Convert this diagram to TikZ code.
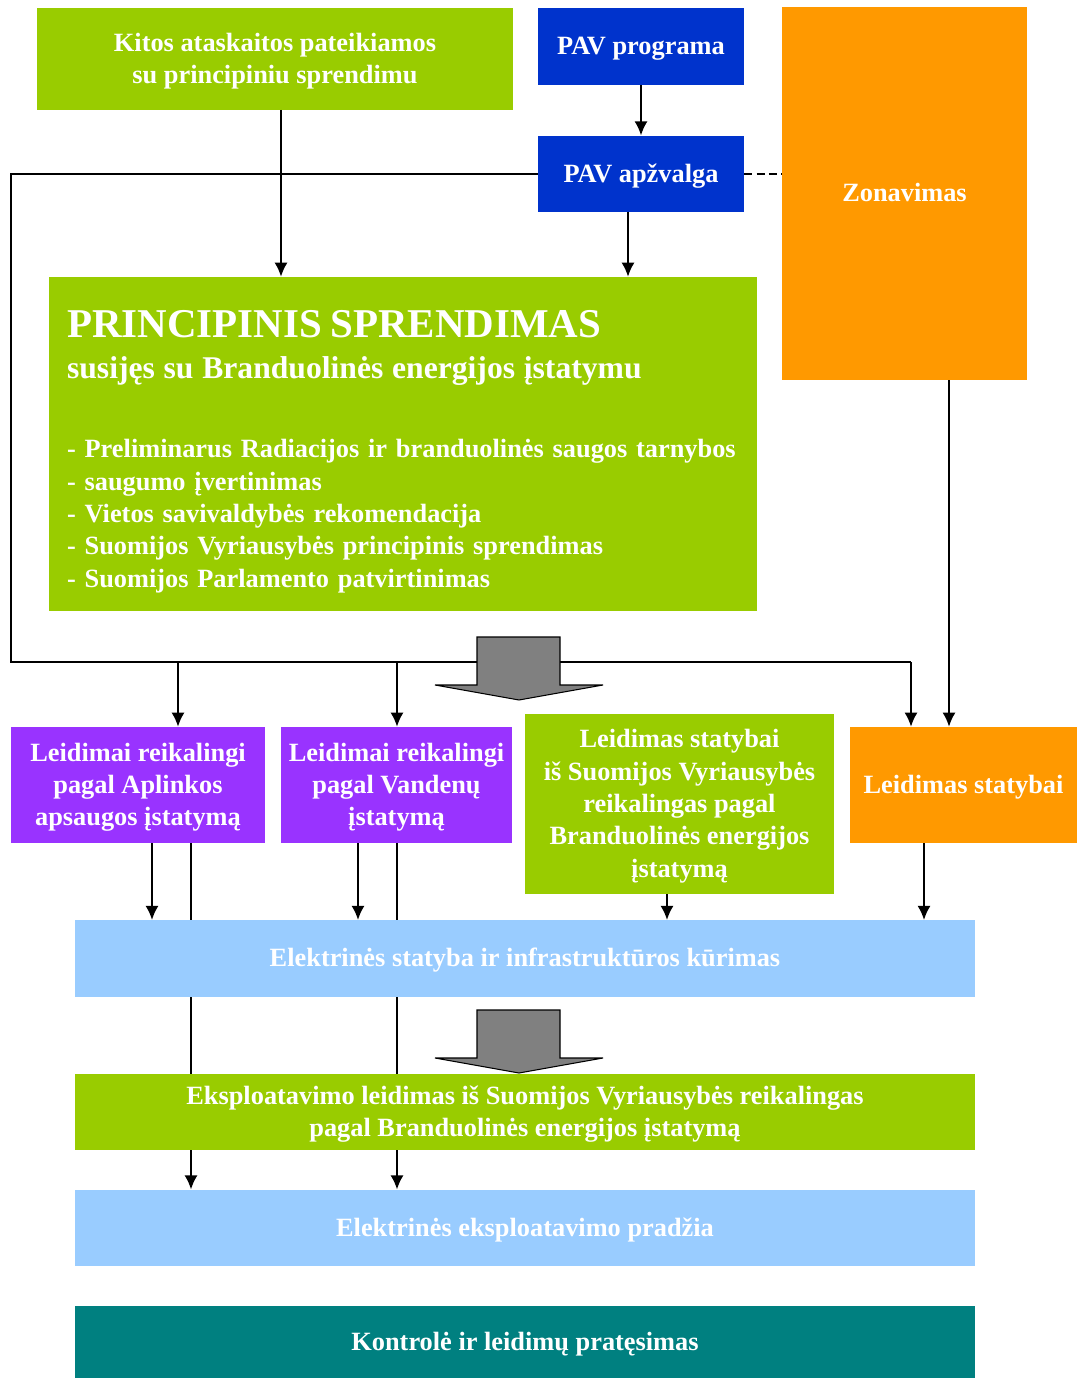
\documentclass[tikz,border=0pt]{standalone}
\usepackage{fontspec}
\setmainfont{Liberation Serif}
\usetikzlibrary{arrows.meta, backgrounds}
\definecolor{pgreen}{HTML}{99CC00}
\definecolor{pblue}{HTML}{0033CC}
\definecolor{porange}{HTML}{FF9900}
\definecolor{ppurple}{HTML}{9933FF}
\definecolor{psky}{HTML}{99CCFF}
\definecolor{pteal}{HTML}{008080}
\definecolor{pgray}{HTML}{808080}
\newcommand{\linetop}{\rule{0pt}{13.6pt}}
\newcommand{\linebot}{\rule[-4pt]{0pt}{4pt}}
\tikzstyle{box} = [rectangle, inner sep=0pt, align=center, text=white, font=\bfseries\fontsize{15}{18.4}\selectfont,
    execute at begin node={\linetop}, execute at end node={\linebot}]
\tikzstyle{greenbox} = [box, fill=pgreen]
\tikzstyle{bluebox} = [box, fill=pblue, minimum width=4.12cm, minimum height=1.53cm]
\tikzstyle{orangebox} = [box, fill=porange]
\tikzstyle{purplebox} = [box, fill=ppurple, minimum height=2.32cm]
\tikzstyle{wide} = [box, minimum width=18cm, minimum height=1.53cm]
\tikzstyle{arrow} = [line width=1pt, -{Latex[length=2.8mm,width=2.6mm]}]
\tikzstyle{line} = [line width=1pt]
\tikzstyle{bigarrow} = [fill=pgray, draw=black, line width=0.6pt, line join=miter]

\begin{document}
\begin{tikzpicture}[x=0.02cm, y=-0.02cm]
    \useasboundingbox (0,0) rectangle (1077,1378);
    % top row
    \node [greenbox, minimum width=9.52cm, minimum height=2.04cm] at (275,59) (kitos) {\linetop Kitos ataskaitos pateikiamos\\su principiniu sprendimu\linebot};
    \node [bluebox] at (641,46.5) (prog) {PAV programa};
    \node [bluebox] at (641,174) (apzv) {PAV apžvalga};
    \node [orangebox, minimum width=4.9cm, minimum height=7.46cm] at (904.5,193.5) (zona) {Zonavimas};
    % decision in principle
    \node [greenbox, minimum width=14.16cm, minimum height=6.68cm, text width=13.44cm, align=left] at (403,444) (princ) {%
        {\rule{0pt}{25pt}\fontsize{23.3}{23}\selectfont PRINCIPINIS SPRENDIMAS\par}
        {\fontsize{18}{23}\selectfont susijęs su Branduolinės energijos įstatymu\par}
        \vspace{27pt}
        - Preliminarus Radiacijos ir branduolinės saugos tarnybos\\
        - saugumo įvertinimas\\
        - Vietos savivaldybės rekomendacija\\
        - Suomijos Vyriausybės principinis sprendimas\\
        - Suomijos Parlamento patvirtinimas};
    % permits
    \node [purplebox, minimum width=5.08cm] at (138,785) (aplink) {\linetop Leidimai reikalingi\\pagal Aplinkos\\apsaugos įstatymą\linebot};
    \node [purplebox, minimum width=4.62cm] at (396.5,785) (vand) {\linetop Leidimai reikalingi\\pagal Vandenų\\įstatymą\linebot};
    \node [greenbox, minimum width=6.18cm, minimum height=3.6cm] at (679.5,804) (vyr) {\linetop Leidimas statybai\\iš Suomijos Vyriausybės\\reikalingas pagal\\Branduolinės energijos\\įstatymą\linebot};
    \node [orangebox, minimum width=4.54cm, minimum height=2.32cm] at (963.5,785) (stat) {Leidimas statybai};
    % bottom stages
    \node [wide, fill=psky] at (525,958.5) (statyba) {Elektrinės statyba ir infrastruktūros kūrimas};
    \node [wide, fill=pgreen] at (525,1112) (eksplo) {\linetop Eksploatavimo leidimas iš Suomijos Vyriausybės reikalingas\\pagal Branduolinės energijos įstatymą\linebot};
    \node [wide, fill=psky] at (525,1228) (pradzia) {Elektrinės eksploatavimo pradžia};
    \node [wide, fill=pteal, minimum height=1.44cm] at (525,1342) (kontrole) {Kontrolė ir leidimų pratęsimas};

    \coordinate (k1) at (281,110);
    \coordinate (p1) at (628,212);
    \coordinate (corner) at (11,662);
    \coordinate (bus1) at (178,662);
    \coordinate (bus2) at (397,662);
    \coordinate (bus3) at (911,662);
    \coordinate (a1) at (152,843);
    \coordinate (a2) at (191,843);
    \coordinate (v1) at (358,843);
    \coordinate (v2) at (397,843);
    \coordinate (g1) at (667,894);
    \coordinate (s1) at (924,843);
    \coordinate (z1) at (949,380);

    \draw [arrow] (k1) -- (k1 |- princ.north);
    \draw [arrow] (prog) -- (apzv);
    \draw [arrow] (p1) -- (p1 |- princ.north);
    \draw [line, dash pattern=on 4.5pt off 2.5pt] (apzv.east) -- (apzv.east -| zona.west);
    \draw [line] (apzv.west) -| (corner) -- (bus3);
    \draw [arrow] (bus1) -- (bus1 |- aplink.north);
    \draw [arrow] (bus2) -- (bus2 |- vand.north);
    \draw [arrow] (bus3) -- (bus3 |- stat.north);
    \draw [arrow] (z1) -- (z1 |- stat.north);
    \draw [arrow] (a1) -- (a1 |- statyba.north);
    \draw [arrow] (v1) -- (v1 |- statyba.north);
    \draw [arrow] (g1) -- (g1 |- statyba.north);
    \draw [arrow] (s1) -- (s1 |- statyba.north);
    \begin{scope}[on background layer]
        \draw [arrow] (a2) -- (a2 |- pradzia.north);
        \draw [arrow] (v2) -- (v2 |- pradzia.north);
    \end{scope}
    \draw [bigarrow] (477,637) -- (560,637) -- (560,685) -- (603,685) -- (519,700) -- (435,685) -- (477,685) -- cycle;
    \draw [bigarrow] (477,1010) -- (560,1010) -- (560,1058) -- (603,1058) -- (519,1073) -- (435,1058) -- (477,1058) -- cycle;
\end{tikzpicture}
\end{document}
